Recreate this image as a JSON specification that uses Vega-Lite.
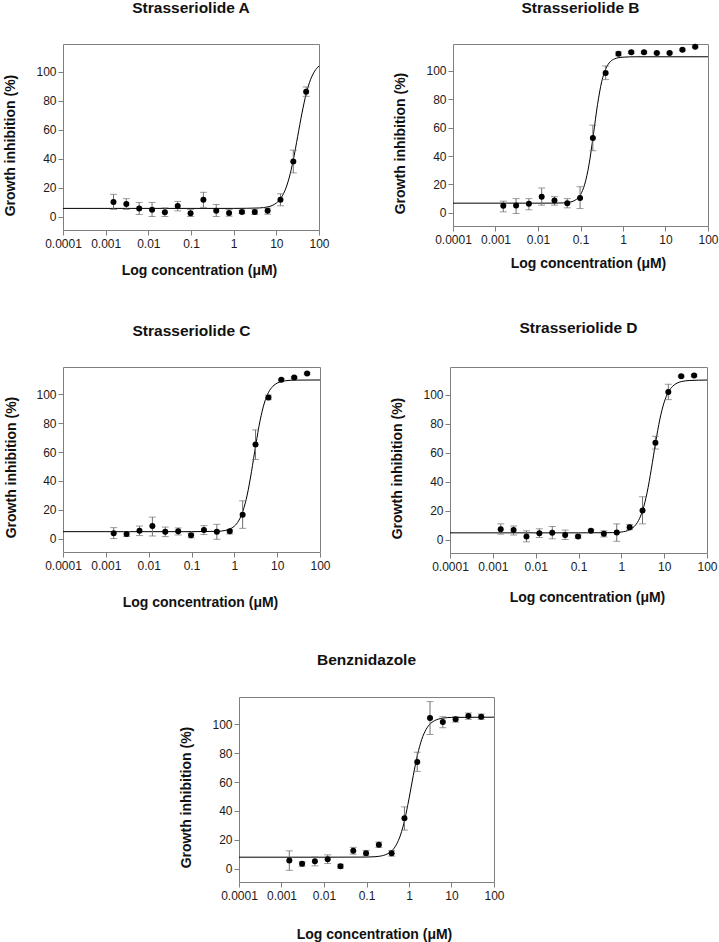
{
  "$schema": "https://vega.github.io/schema/vega-lite/v6.json",
  "padding": {"left": 3, "top": 0, "right": 0, "bottom": 0},
  "background": "white",
  "datasets": {
    "points": [
      {"p":"A","c":0.001526,"y":10.0,"lo":4.9,"hi":15.3},
      {"p":"A","c":0.003052,"y":8.6,"lo":4.9,"hi":12.3},
      {"p":"A","c":0.006104,"y":5.6,"lo":1.4,"hi":9.7},
      {"p":"A","c":0.01221,"y":4.6,"lo":0.0,"hi":9.7},
      {"p":"A","c":0.02441,"y":3.0,"lo":0.0,"hi":6.0},
      {"p":"A","c":0.04883,"y":7.2,"lo":3.9,"hi":10.4},
      {"p":"A","c":0.09766,"y":2.3,"lo":0.0,"hi":4.9},
      {"p":"A","c":0.1953,"y":11.6,"lo":6.3,"hi":16.7},
      {"p":"A","c":0.3906,"y":3.9,"lo":0.0,"hi":8.3},
      {"p":"A","c":0.7813,"y":2.5,"lo":0.2,"hi":4.9},
      {"p":"A","c":1.5625,"y":3.2,"lo":2.1,"hi":4.4},
      {"p":"A","c":3.125,"y":3.2,"lo":1.4,"hi":5.1},
      {"p":"A","c":6.25,"y":3.9,"lo":1.6,"hi":5.8},
      {"p":"A","c":12.5,"y":11.6,"lo":7.4,"hi":15.7},
      {"p":"A","c":25,"y":38.0,"lo":30.1,"hi":45.8},
      {"p":"A","c":50,"y":86.1,"lo":82.9,"hi":89.4},
      {"p":"B","c":0.001526,"y":4.9,"lo":0.7,"hi":8.2},
      {"p":"B","c":0.003052,"y":5.1,"lo":-0.5,"hi":10.0},
      {"p":"B","c":0.006104,"y":6.3,"lo":2.1,"hi":10.0},
      {"p":"B","c":0.01221,"y":11.4,"lo":5.4,"hi":17.5},
      {"p":"B","c":0.02441,"y":8.6,"lo":5.4,"hi":11.4},
      {"p":"B","c":0.04883,"y":6.8,"lo":3.5,"hi":10.0},
      {"p":"B","c":0.09766,"y":10.5,"lo":3.0,"hi":18.4},
      {"p":"B","c":0.1953,"y":52.7,"lo":43.8,"hi":61.8},
      {"p":"B","c":0.3906,"y":98.6,"lo":93.9,"hi":103.5},
      {"p":"B","c":0.7813,"y":112.1,"lo":110.7,"hi":113.5},
      {"p":"B","c":1.5625,"y":113.1,"lo":112.3,"hi":113.9},
      {"p":"B","c":3.125,"y":113.1,"lo":112.3,"hi":113.9},
      {"p":"B","c":6.25,"y":112.6,"lo":112.0,"hi":113.2},
      {"p":"B","c":12.5,"y":112.6,"lo":112.0,"hi":113.2},
      {"p":"B","c":25,"y":114.9,"lo":114.3,"hi":115.5},
      {"p":"B","c":50,"y":117.0,"lo":116.4,"hi":117.6},
      {"p":"C","c":0.001526,"y":3.7,"lo":0.0,"hi":7.6},
      {"p":"C","c":0.003052,"y":3.2,"lo":1.4,"hi":4.8},
      {"p":"C","c":0.006104,"y":5.5,"lo":2.1,"hi":8.7},
      {"p":"C","c":0.01221,"y":8.7,"lo":1.8,"hi":14.9},
      {"p":"C","c":0.02441,"y":4.8,"lo":1.4,"hi":8.0},
      {"p":"C","c":0.04883,"y":5.1,"lo":2.5,"hi":7.4},
      {"p":"C","c":0.09766,"y":2.3,"lo":0.5,"hi":3.7},
      {"p":"C","c":0.1953,"y":6.0,"lo":2.8,"hi":9.0},
      {"p":"C","c":0.3906,"y":4.8,"lo":-0.5,"hi":9.9},
      {"p":"C","c":0.7813,"y":5.1,"lo":3.2,"hi":6.2},
      {"p":"C","c":1.5625,"y":16.6,"lo":7.1,"hi":26.2},
      {"p":"C","c":3.125,"y":65.3,"lo":54.9,"hi":75.4},
      {"p":"C","c":6.25,"y":97.9,"lo":96.3,"hi":99.5},
      {"p":"C","c":12.5,"y":110.1,"lo":109.5,"hi":110.7},
      {"p":"C","c":25,"y":111.7,"lo":111.1,"hi":112.3},
      {"p":"C","c":50,"y":114.5,"lo":113.9,"hi":115.1},
      {"p":"D","c":0.001526,"y":7.1,"lo":3.7,"hi":10.8},
      {"p":"D","c":0.003052,"y":6.5,"lo":3.2,"hi":9.4},
      {"p":"D","c":0.006104,"y":2.1,"lo":-1.6,"hi":6.0},
      {"p":"D","c":0.01221,"y":4.4,"lo":1.4,"hi":7.4},
      {"p":"D","c":0.02441,"y":4.6,"lo":0.5,"hi":9.0},
      {"p":"D","c":0.04883,"y":3.2,"lo":0.0,"hi":6.5},
      {"p":"D","c":0.09766,"y":2.1,"lo":0.9,"hi":3.2},
      {"p":"D","c":0.1953,"y":6.0,"lo":5.0,"hi":7.0},
      {"p":"D","c":0.3906,"y":3.9,"lo":1.8,"hi":6.0},
      {"p":"D","c":0.7813,"y":4.8,"lo":-1.2,"hi":10.8},
      {"p":"D","c":1.5625,"y":8.5,"lo":6.7,"hi":10.4},
      {"p":"D","c":3.125,"y":20.0,"lo":10.8,"hi":29.5},
      {"p":"D","c":6.25,"y":66.8,"lo":62.4,"hi":71.2},
      {"p":"D","c":12.5,"y":101.8,"lo":96.5,"hi":107.1},
      {"p":"D","c":25,"y":112.7,"lo":112.1,"hi":113.3},
      {"p":"D","c":50,"y":113.1,"lo":112.3,"hi":113.9},
      {"p":"E","c":0.001526,"y":5.6,"lo":-1.2,"hi":12.3},
      {"p":"E","c":0.003052,"y":3.3,"lo":1.6,"hi":4.7},
      {"p":"E","c":0.006104,"y":5.1,"lo":1.9,"hi":8.1},
      {"p":"E","c":0.01221,"y":6.5,"lo":3.5,"hi":9.5},
      {"p":"E","c":0.02441,"y":1.6,"lo":0.2,"hi":3.0},
      {"p":"E","c":0.04883,"y":12.3,"lo":10.0,"hi":14.7},
      {"p":"E","c":0.09766,"y":10.7,"lo":8.8,"hi":12.6},
      {"p":"E","c":0.1953,"y":16.5,"lo":14.7,"hi":18.4},
      {"p":"E","c":0.3906,"y":10.7,"lo":8.6,"hi":12.6},
      {"p":"E","c":0.7813,"y":34.9,"lo":26.7,"hi":42.8},
      {"p":"E","c":1.5625,"y":74.0,"lo":67.4,"hi":80.7},
      {"p":"E","c":3.125,"y":104.4,"lo":93.0,"hi":115.8},
      {"p":"E","c":6.25,"y":101.6,"lo":97.7,"hi":105.3},
      {"p":"E","c":12.5,"y":103.5,"lo":101.6,"hi":105.3},
      {"p":"E","c":25,"y":105.8,"lo":103.5,"hi":107.9},
      {"p":"E","c":50,"y":105.3,"lo":103.5,"hi":107.2}
    ],
    "curves": [
      {"p":"A","c":0.0001,"y":5.6},{"p":"A","c":1,"y":5.6},{"p":"A","c":3.981,"y":5.9},{"p":"A","c":5.012,"y":6.15},
      {"p":"A","c":6.31,"y":6.64},{"p":"A","c":7.943,"y":7.57},{"p":"A","c":10,"y":9.29},{"p":"A","c":12.589,"y":12.4},
      {"p":"A","c":15.849,"y":17.8},{"p":"A","c":19.953,"y":26.6},{"p":"A","c":25.119,"y":39.4},{"p":"A","c":31.623,"y":55.2},
      {"p":"A","c":39.811,"y":71.2},{"p":"A","c":50.119,"y":84.7},{"p":"A","c":63.096,"y":94.3},{"p":"A","c":79.433,"y":100.3},
      {"p":"A","c":100,"y":103.8},
      {"p":"B","c":0.0001,"y":6.8},{"p":"B","c":0.01,"y":6.8},{"p":"B","c":0.02512,"y":6.83},{"p":"B","c":0.03981,"y":7.0},
      {"p":"B","c":0.05012,"y":7.26},{"p":"B","c":0.0631,"y":7.9},{"p":"B","c":0.07943,"y":9.4},{"p":"B","c":0.1,"y":12.8},
      {"p":"B","c":0.12589,"y":20.2},{"p":"B","c":0.15849,"y":33.9},{"p":"B","c":0.19953,"y":54.4},{"p":"B","c":0.25119,"y":76.2},
      {"p":"B","c":0.31623,"y":92.6},{"p":"B","c":0.39811,"y":101.9},{"p":"B","c":0.50119,"y":106.5},{"p":"B","c":0.63096,"y":108.5},
      {"p":"B","c":0.79433,"y":109.4},{"p":"B","c":1,"y":109.7},{"p":"B","c":2,"y":110},{"p":"B","c":100,"y":110},
      {"p":"C","c":0.0001,"y":4.8},{"p":"C","c":0.1,"y":4.8},{"p":"C","c":0.3981,"y":5.03},{"p":"C","c":0.631,"y":5.74},
      {"p":"C","c":0.7943,"y":6.7},{"p":"C","c":1,"y":8.6},{"p":"C","c":1.2589,"y":12.28},{"p":"C","c":1.5849,"y":19.02},
      {"p":"C","c":1.9953,"y":30.25},{"p":"C","c":2.5119,"y":46.3},{"p":"C","c":3.1623,"y":64.86},{"p":"C","c":3.9811,"y":81.69},
      {"p":"C","c":5.0119,"y":93.93},{"p":"C","c":6.3096,"y":101.47},{"p":"C","c":7.9433,"y":105.64},{"p":"C","c":10,"y":107.82},
      {"p":"C","c":12.589,"y":108.92},{"p":"C","c":15.849,"y":109.47},{"p":"C","c":25.119,"y":109.9},{"p":"C","c":100,"y":110},
      {"p":"D","c":0.0001,"y":4.6},{"p":"D","c":0.1,"y":4.6},{"p":"D","c":0.631,"y":4.74},{"p":"D","c":1,"y":5.15},
      {"p":"D","c":1.2589,"y":5.7},{"p":"D","c":1.5849,"y":6.8},{"p":"D","c":1.9953,"y":8.95},{"p":"D","c":2.5119,"y":13.02},
      {"p":"D","c":3.1623,"y":20.33},{"p":"D","c":3.9811,"y":32.16},{"p":"D","c":5.0119,"y":48.52},{"p":"D","c":6.3096,"y":66.85},
      {"p":"D","c":7.9433,"y":83.05},{"p":"D","c":10,"y":94.67},{"p":"D","c":12.589,"y":101.8},{"p":"D","c":15.849,"y":105.77},
      {"p":"D","c":19.953,"y":107.86},{"p":"D","c":25.119,"y":108.93},{"p":"D","c":39.811,"y":109.7},{"p":"D","c":100,"y":110},
      {"p":"E","c":0.0001,"y":7.9},{"p":"E","c":0.01,"y":7.9},{"p":"E","c":0.1,"y":7.99},{"p":"E","c":0.1585,"y":8.23},
      {"p":"E","c":0.1995,"y":8.54},{"p":"E","c":0.2512,"y":9.15},{"p":"E","c":0.3162,"y":10.31},{"p":"E","c":0.3981,"y":12.48},
      {"p":"E","c":0.5012,"y":16.45},{"p":"E","c":0.631,"y":23.29},{"p":"E","c":0.7943,"y":33.98},{"p":"E","c":1,"y":48.42},
      {"p":"E","c":1.2589,"y":64.48},{"p":"E","c":1.5849,"y":78.92},{"p":"E","c":1.9953,"y":89.61},{"p":"E","c":2.5119,"y":96.45},
      {"p":"E","c":3.1623,"y":100.42},{"p":"E","c":3.9811,"y":102.59},{"p":"E","c":5.0119,"y":103.75},{"p":"E","c":6.3096,"y":104.36},
      {"p":"E","c":10,"y":104.83},{"p":"E","c":100,"y":105}
    ]
  },
  "spacing": 42,
  "vconcat": [
    {
      "hconcat": [
        {
          "width": 256, "height": 186,
          "title": {"text": "Strasseriolide A", "offset": 28},
          "layer": [
            {"data": {"name": "curves"}, "transform": [{"filter": "datum.p === 'A'"}],
             "mark": {"type": "line", "color": "#000000", "strokeWidth": 1, "interpolate": "monotone"},
             "encoding": {
               "x": {"field": "c", "type": "quantitative", "title": "Log concentration (μM)", "scale": {"type": "log", "domain": [0.0001, 100], "nice": false},
                     "axis": {"values": [0.0001, 0.001, 0.01, 0.1, 1, 10, 100], "tickCount": 20, "format": "~g", "titlePadding": 14.5, "titleX": 136}},
               "y": {"field": "y", "type": "quantitative", "title": "Growth inhibition (%)", "scale": {"domain": [-9.3, 119], "nice": false, "zero": false},
                     "axis": {"values": [0, 20, 40, 60, 80, 100], "tickCount": 20, "titlePadding": 18, "titleY": 101}}
             }},
            {"data": {"name": "points"}, "transform": [{"filter": "datum.p === 'A'"}],
             "mark": {"type": "errorbar", "color": "#707070", "thickness": 1, "ticks": {"size": 7, "thickness": 1, "color": "#707070"}},
             "encoding": {
               "x": {"field": "c", "type": "quantitative", "title": "Log concentration (μM)", "scale": {"type": "log", "domain": [0.0001, 100], "nice": false}},
               "y": {"field": "lo", "type": "quantitative", "title": "Growth inhibition (%)", "scale": {"domain": [-9.3, 119], "nice": false, "zero": false}},
               "y2": {"field": "hi"}
             }},
            {"data": {"name": "points"}, "transform": [{"filter": "datum.p === 'A'"}],
             "mark": {"type": "point", "filled": true, "color": "#000000", "opacity": 1, "size": 36},
             "encoding": {
               "x": {"field": "c", "type": "quantitative", "title": "Log concentration (μM)", "scale": {"type": "log", "domain": [0.0001, 100], "nice": false}},
               "y": {"field": "y", "type": "quantitative", "title": "Growth inhibition (%)", "scale": {"domain": [-9.3, 119], "nice": false, "zero": false}}
             }}
          ]
        },
        {
          "width": 255, "height": 182,
          "title": {"text": "Strasseriolide B", "offset": 27},
          "layer": [
            {"data": {"name": "curves"}, "transform": [{"filter": "datum.p === 'B'"}],
             "mark": {"type": "line", "color": "#000000", "strokeWidth": 1, "interpolate": "monotone"},
             "encoding": {
               "x": {"field": "c", "type": "quantitative", "title": "Log concentration (μM)", "scale": {"type": "log", "domain": [0.0001, 100], "nice": false},
                     "axis": {"values": [0.0001, 0.001, 0.01, 0.1, 1, 10, 100], "tickCount": 20, "format": "~g", "titlePadding": 11, "titleX": 135}},
               "y": {"field": "y", "type": "quantitative", "title": "Growth inhibition (%)", "scale": {"domain": [-9.3, 119], "nice": false, "zero": false},
                     "axis": {"values": [0, 20, 40, 60, 80, 100], "tickCount": 20, "titlePadding": 18, "titleY": 99}}
             }},
            {"data": {"name": "points"}, "transform": [{"filter": "datum.p === 'B'"}],
             "mark": {"type": "errorbar", "color": "#707070", "thickness": 1, "ticks": {"size": 7, "thickness": 1, "color": "#707070"}},
             "encoding": {
               "x": {"field": "c", "type": "quantitative", "title": "Log concentration (μM)", "scale": {"type": "log", "domain": [0.0001, 100], "nice": false}},
               "y": {"field": "lo", "type": "quantitative", "title": "Growth inhibition (%)", "scale": {"domain": [-9.3, 119], "nice": false, "zero": false}},
               "y2": {"field": "hi"}
             }},
            {"data": {"name": "points"}, "transform": [{"filter": "datum.p === 'B'"}],
             "mark": {"type": "point", "filled": true, "color": "#000000", "opacity": 1, "size": 36},
             "encoding": {
               "x": {"field": "c", "type": "quantitative", "title": "Log concentration (μM)", "scale": {"type": "log", "domain": [0.0001, 100], "nice": false}},
               "y": {"field": "y", "type": "quantitative", "title": "Growth inhibition (%)", "scale": {"domain": [-9.3, 119], "nice": false, "zero": false}}
             }}
          ]
        }
      ],
      "spacing": 63
    },
    {
      "hconcat": [
        {
          "width": 257, "height": 185,
          "title": {"text": "Strasseriolide C", "offset": 28},
          "layer": [
            {"data": {"name": "curves"}, "transform": [{"filter": "datum.p === 'C'"}],
             "mark": {"type": "line", "color": "#000000", "strokeWidth": 1, "interpolate": "monotone"},
             "encoding": {
               "x": {"field": "c", "type": "quantitative", "title": "Log concentration (μM)", "scale": {"type": "log", "domain": [0.0001, 100], "nice": false},
                     "axis": {"values": [0.0001, 0.001, 0.01, 0.1, 1, 10, 100], "tickCount": 20, "format": "~g", "titlePadding": 24, "titleX": 137}},
               "y": {"field": "y", "type": "quantitative", "title": "Growth inhibition (%)", "scale": {"domain": [-9.3, 119], "nice": false, "zero": false},
                     "axis": {"values": [0, 20, 40, 60, 80, 100], "tickCount": 20, "titlePadding": 17, "titleY": 100}}
             }},
            {"data": {"name": "points"}, "transform": [{"filter": "datum.p === 'C'"}],
             "mark": {"type": "errorbar", "color": "#707070", "thickness": 1, "ticks": {"size": 7, "thickness": 1, "color": "#707070"}},
             "encoding": {
               "x": {"field": "c", "type": "quantitative", "title": "Log concentration (μM)", "scale": {"type": "log", "domain": [0.0001, 100], "nice": false}},
               "y": {"field": "lo", "type": "quantitative", "title": "Growth inhibition (%)", "scale": {"domain": [-9.3, 119], "nice": false, "zero": false}},
               "y2": {"field": "hi"}
             }},
            {"data": {"name": "points"}, "transform": [{"filter": "datum.p === 'C'"}],
             "mark": {"type": "point", "filled": true, "color": "#000000", "opacity": 1, "size": 36},
             "encoding": {
               "x": {"field": "c", "type": "quantitative", "title": "Log concentration (μM)", "scale": {"type": "log", "domain": [0.0001, 100], "nice": false}},
               "y": {"field": "y", "type": "quantitative", "title": "Growth inhibition (%)", "scale": {"domain": [-9.3, 119], "nice": false, "zero": false}}
             }}
          ]
        },
        {
          "width": 257, "height": 186,
          "title": {"text": "Strasseriolide D", "offset": 31},
          "layer": [
            {"data": {"name": "curves"}, "transform": [{"filter": "datum.p === 'D'"}],
             "mark": {"type": "line", "color": "#000000", "strokeWidth": 1, "interpolate": "monotone"},
             "encoding": {
               "x": {"field": "c", "type": "quantitative", "title": "Log concentration (μM)", "scale": {"type": "log", "domain": [0.0001, 100], "nice": false},
                     "axis": {"values": [0.0001, 0.001, 0.01, 0.1, 1, 10, 100], "tickCount": 20, "format": "~g", "titlePadding": 18, "titleX": 137}},
               "y": {"field": "y", "type": "quantitative", "title": "Growth inhibition (%)", "scale": {"domain": [-9.3, 119], "nice": false, "zero": false},
                     "axis": {"values": [0, 20, 40, 60, 80, 100], "tickCount": 20, "titlePadding": 18, "titleY": 101}}
             }},
            {"data": {"name": "points"}, "transform": [{"filter": "datum.p === 'D'"}],
             "mark": {"type": "errorbar", "color": "#707070", "thickness": 1, "ticks": {"size": 7, "thickness": 1, "color": "#707070"}},
             "encoding": {
               "x": {"field": "c", "type": "quantitative", "title": "Log concentration (μM)", "scale": {"type": "log", "domain": [0.0001, 100], "nice": false}},
               "y": {"field": "lo", "type": "quantitative", "title": "Growth inhibition (%)", "scale": {"domain": [-9.3, 119], "nice": false, "zero": false}},
               "y2": {"field": "hi"}
             }},
            {"data": {"name": "points"}, "transform": [{"filter": "datum.p === 'D'"}],
             "mark": {"type": "point", "filled": true, "color": "#000000", "opacity": 1, "size": 36},
             "encoding": {
               "x": {"field": "c", "type": "quantitative", "title": "Log concentration (μM)", "scale": {"type": "log", "domain": [0.0001, 100], "nice": false}},
               "y": {"field": "y", "type": "quantitative", "title": "Growth inhibition (%)", "scale": {"domain": [-9.3, 119], "nice": false, "zero": false}}
             }}
          ]
        }
      ],
      "spacing": 59
    },
    {
      "hconcat": [
        {
          "width": 106, "height": 10,
          "view": {"stroke": null},
          "data": {"values": [{"k": 0}]},
          "mark": {"type": "point", "opacity": 0},
          "encoding": {}
        },
        {
          "width": 255, "height": 185,
          "title": {"text": "Benznidazole", "offset": 29},
          "layer": [
            {"data": {"name": "curves"}, "transform": [{"filter": "datum.p === 'E'"}],
             "mark": {"type": "line", "color": "#000000", "strokeWidth": 1, "interpolate": "monotone"},
             "encoding": {
               "x": {"field": "c", "type": "quantitative", "title": "Log concentration (μM)", "scale": {"type": "log", "domain": [0.0001, 100], "nice": false},
                     "axis": {"values": [0.0001, 0.001, 0.01, 0.1, 1, 10, 100], "tickCount": 20, "format": "~g", "titlePadding": 26, "titleX": 135}},
               "y": {"field": "y", "type": "quantitative", "title": "Growth inhibition (%)", "scale": {"domain": [-9.3, 119], "nice": false, "zero": false},
                     "axis": {"values": [0, 20, 40, 60, 80, 100], "tickCount": 20, "titlePadding": 18, "titleY": 100}}
             }},
            {"data": {"name": "points"}, "transform": [{"filter": "datum.p === 'E'"}],
             "mark": {"type": "errorbar", "color": "#707070", "thickness": 1, "ticks": {"size": 7, "thickness": 1, "color": "#707070"}},
             "encoding": {
               "x": {"field": "c", "type": "quantitative", "title": "Log concentration (μM)", "scale": {"type": "log", "domain": [0.0001, 100], "nice": false}},
               "y": {"field": "lo", "type": "quantitative", "title": "Growth inhibition (%)", "scale": {"domain": [-9.3, 119], "nice": false, "zero": false}},
               "y2": {"field": "hi"}
             }},
            {"data": {"name": "points"}, "transform": [{"filter": "datum.p === 'E'"}],
             "mark": {"type": "point", "filled": true, "color": "#000000", "opacity": 1, "size": 36},
             "encoding": {
               "x": {"field": "c", "type": "quantitative", "title": "Log concentration (μM)", "scale": {"type": "log", "domain": [0.0001, 100], "nice": false}},
               "y": {"field": "y", "type": "quantitative", "title": "Growth inhibition (%)", "scale": {"domain": [-9.3, 119], "nice": false, "zero": false}}
             }}
          ]
        }
      ],
      "spacing": 10
    }
  ],
  "config": {
    "font": "Liberation Sans",
    "view": {"stroke": "#7f7f7f", "strokeWidth": 1},
    "axis": {
      "domain": false, "grid": false, "tickColor": "#7f7f7f", "tickSize": 5, "tickWidth": 1,
      "labelFont": "Liberation Sans", "labelFontSize": 12, "labelColor": "#1a1a1a", "labelOverlap": false,
      "titleFont": "Liberation Sans", "titleFontSize": 14, "titleFontWeight": "bold", "titleColor": "#111111"
    },
    "axisX": {"labelPadding": 3, "labelFlush": false, "labelOverlap": false, "labelBound": false},
    "axisY": {"labelPadding": 2, "labelOverlap": false},
    "title": {"font": "Liberation Sans", "fontSize": 15.5, "fontWeight": "bold", "color": "#111111", "anchor": "middle", "baseline": "alphabetic"}
  }
}
